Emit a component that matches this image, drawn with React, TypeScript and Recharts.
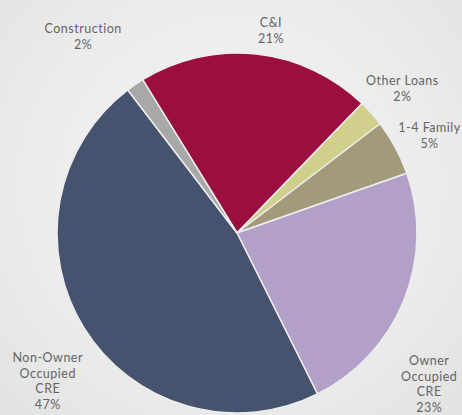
import React from 'react';
import { PieChart, Pie, Cell } from 'recharts';

const categories = ['C&I', 'Other Loans', '1-4 Family', 'Owner Occupied CRE', 'Non-Owner Occupied CRE', 'Construction'];
const shares = [21, 2.4, 5, 23, 47, 1.6];
const labelLines = [
  ['C&I'],
  ['Other Loans'],
  ['1-4 Family'],
  ['Owner', 'Occupied', 'CRE'],
  ['Non-Owner', 'Occupied', 'CRE'],
  ['Construction'],
];

const colors = ['#9b0f40', '#d0d08c', '#a39a7c', '#b3a0c8', '#46536e', '#a8a8a8'];

// label placement: [angle shift (deg, clockwise), distance from centre]
const labelPlace: Record<string, [number, number]> = {
  'C&I': [3.3, 206],
  'Other Loans': [0.4, 220],
  '1-4 Family': [1.4, 216],
  'Owner Occupied CRE': [16, 244],
  'Non-Owner Occupied CRE': [-6, 240],
  Construction: [-3.5, 250],
};

const data = categories.map((name, i) => ({ name, value: shares[i], lines: labelLines[i] }));

const RADIAN = Math.PI / 180;
const LINE_H = 15.5;

const renderLabel = ({ cx, cy, midAngle, payload, value, index }: any) => {
  const name = categories[index];
  const [shift, dist] = labelPlace[name];
  const theta = (90 - midAngle + shift) * RADIAN; // clockwise from top
  const x = cx + dist * Math.sin(theta);
  const y = cy - dist * Math.cos(theta);
  const lines: string[] = [...(payload?.lines ?? labelLines[index]), `${Math.round(value)}%`];
  const top = y - ((lines.length - 1) * LINE_H) / 2;
  return (
    <text
      x={x}
      y={top}
      fill="#646464"
      textAnchor="middle"
      dominantBaseline="central"
      style={{ fontFamily: 'Lato, sans-serif', fontSize: 12.5, letterSpacing: 0.5 }}
    >
      {lines.map((l, i) => (
        <tspan key={i} x={x} y={top + i * LINE_H}>
          {l}
        </tspan>
      ))}
    </text>
  );
};

export default function App() {
  return (
    <div
      style={{
        position: 'absolute',
        left: 0,
        top: 0,
        width: 462,
        height: 415,
        background: 'radial-gradient(ellipse at 50% 45%, #f4f4f4 0%, #ececec 60%, #e2e2e2 100%)',
        overflow: 'hidden',
      }}
    >
      <PieChart width={462} height={415} margin={{ top: 0, right: 0, bottom: 0, left: 0 }}>
        <Pie
          data={data}
          dataKey="value"
          nameKey="name"
          cx={237}
          cy={233}
          outerRadius={180}
          startAngle={121.6}
          endAngle={-238.4}
          stroke="#ededed"
          strokeWidth={1.5}
          labelLine={false}
          label={renderLabel}
          isAnimationActive={false}
        >
          {data.map((entry, index) => (
            <Cell key={`cell-${index}`} fill={colors[index]} />
          ))}
        </Pie>
      </PieChart>
    </div>
  );
}
